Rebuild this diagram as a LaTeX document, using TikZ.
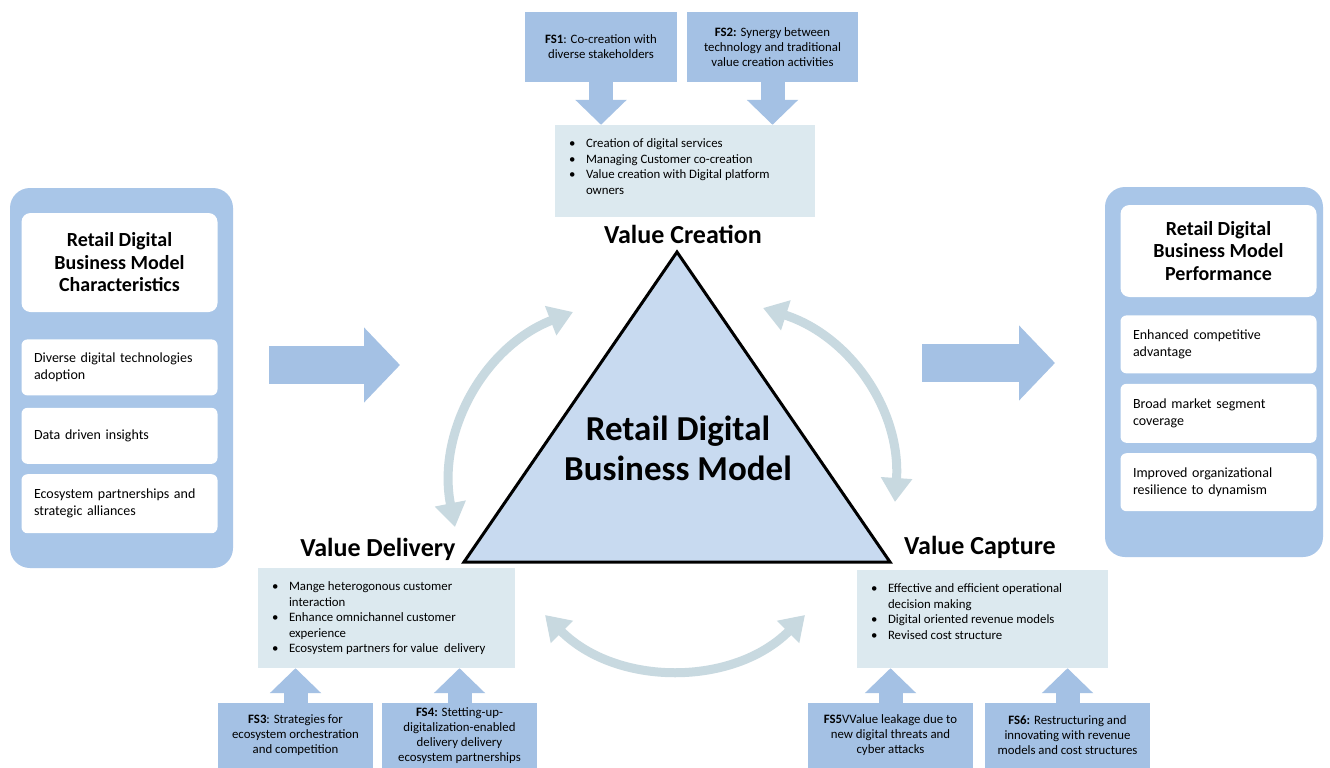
\documentclass[tikz,border=0pt]{standalone}
\usepackage{fontspec}
\setmainfont{Carlito}
\usetikzlibrary{arrows.meta,positioning}
\definecolor{panelblue}{RGB}{169,198,232}
\definecolor{fsblue}{RGB}{164,193,228}
\definecolor{valgray}{RGB}{220,233,239}
\definecolor{triblue}{RGB}{200,218,240}
\definecolor{cyclegray}{RGB}{200,217,224}
\newcommand{\bpt}{\makebox[17pt][l]{\textbullet}}
\newcommand{\bcont}{\hspace*{17pt}}
\tikzset{
  panel_o/.style = {fill=panelblue, rounded corners=20pt},% panneau
  panel_t/.style = {fill=white, rounded corners=9pt, align=center,
    minimum width=196pt, font=\bfseries\fontsize{20}{22.5}\selectfont},% titre
  panel_i/.style = {fill=white, rounded corners=6pt, align=left,
    text width=171pt, inner xsep=12.5pt,
    font=\fontsize{14}{17}\selectfont},% element
  fs_box/.style = {fill=fsblue, align=center, inner sep=0pt,
    minimum height=70pt, font=\fontsize{12.8}{15}\selectfont},% facteur
  val_box/.style = {fill=valgray, inner sep=14pt,
    font=\fontsize{12.8}{15.5}\selectfont},% liste
  val_lbl/.style = {font=\bfseries\fontsize{26}{28}\selectfont},
  fs_arrow/.style = {draw=fsblue, line width=24pt,
    -{Triangle[width=50pt,length=25pt]}},
  big_arrow/.style = {draw=fsblue, line width=38pt,
    -{Triangle[width=73pt,length=36pt]}},
  cycle_arrow/.style = {draw=cyclegray, line width=9pt,
    {Triangle[width=30pt,length=24pt]}-{Triangle[width=30pt,length=24pt]}}
}

\begin{document}
\begin{tikzpicture}[x=1pt,y=-1pt]
\path[use as bounding box, fill=white] (0,0) rectangle (1330,768);

% characteristics
\node[panel_o, minimum width=223pt, minimum height=380pt] (lpanel) at (121.5,378) {};
\node[panel_t, minimum height=99pt] (ltitle) at (119.5,262.5)
  {Retail Digital\\Business Model\\Characteristics};
\node[panel_i, minimum height=56pt, below=27pt of ltitle] (lchar1)
  {Diverse digital technologies\\adoption};
\node[panel_i, minimum height=56pt, below=12pt of lchar1] (lchar2)
  {Data driven insights};
\node[panel_i, minimum height=59pt, below=10pt of lchar2] (lchar3)
  {Ecosystem partnerships and\\strategic alliances};

% performance
\node[panel_o, minimum width=218pt, minimum height=370pt] (rpanel) at (1214,372) {};
\node[panel_t, minimum height=92pt] (rtitle) at (1218.5,251)
  {Retail Digital\\Business Model\\Performance};
\node[panel_i, minimum height=58pt, below=18pt of rtitle] (rperf1)
  {Enhanced competitive\\advantage};
\node[panel_i, minimum height=59pt, below=10pt of rperf1] (rperf2)
  {Broad market segment\\coverage};
\node[panel_i, minimum height=58pt, below=10pt of rperf2] (rperf3)
  {Improved organizational\\resilience to dynamism};

\coordinate (in_s) at (269,365);
\coordinate (in_e) at (400,365);
\coordinate (out_s) at (922,363);
\coordinate (out_e) at (1055,363);
\draw[big_arrow] (in_s) -- (in_e);
\draw[big_arrow] (out_s) -- (out_e);

\coordinate (cy_l1) at (455,527);
\coordinate (cy_l2) at (573,312);
\coordinate (cy_r1) at (763,308);
\coordinate (cy_r2) at (895,502);
\coordinate (cy_b1) at (545,615);
\coordinate (cy_b2) at (805,615);
\draw[cycle_arrow] (cy_l1) to[bend left=40] (cy_l2);
\draw[cycle_arrow] (cy_r1) to[bend left=38] (cy_r2);
\draw[cycle_arrow] (cy_b1) to[bend right=45] (cy_b2);

% triangle
\coordinate (t_top) at (677,252);
\coordinate (t_left) at (464,562);
\coordinate (t_right) at (890,562);
\filldraw[fill=triblue, draw=black, line width=3pt] (t_top) -- (t_left) -- (t_right) -- cycle;
\node[align=center, font=\bfseries\fontsize{35}{40}\selectfont] (rdbm) at (678,448)
  {Retail Digital\\Business Model};

\node[val_lbl] (vcr_lbl) at (683,234) {Value Creation};
\node[val_lbl] (vdl_lbl) at (378,549) {Value Delivery};
\node[val_lbl] (vcp_lbl) at (980,547) {Value Capture};

\node[val_box] (vcreate) at (685,171) {\parbox[c][64pt][t]{232pt}{\raggedright
  \bpt Creation of digital services\\
  \bpt Managing Customer co-creation\\
  \bpt Value creation with Digital platform\\
  \bcont owners}};
\node[val_box] (vdeliver) at (386.5,618) {\parbox[c][72pt][t]{229pt}{\raggedright
  \bpt Mange heterogonous customer\\
  \bcont interaction\\
  \bpt Enhance omnichannel customer\\
  \bcont experience\\
  \bpt Ecosystem partners for value\ \ delivery}};
\node[val_box] (vcapture) at (982.5,619) {\parbox[c][70pt][t]{223pt}{\raggedright
  \bpt Effective and efficient operational\\
  \bcont decision making\\
  \bpt Digital oriented revenue models\\
  \bpt Revised cost structure}};

% factors
\node[fs_box, minimum width=152pt] (fs1) at (601,47)
  {\textbf{FS1}: Co-creation with\\diverse stakeholders};
\node[fs_box, minimum width=171pt] (fs2) at (772.5,47)
  {\textbf{FS2:} Synergy between\\technology and traditional\\value creation activities};
\node[fs_box, minimum width=155pt, minimum height=65pt] (fs3) at (295.5,735.5)
  {\textbf{FS3}: Strategies for\\ecosystem orchestration\\and competition};
\node[fs_box, minimum width=155pt, minimum height=65pt] (fs4) at (459.5,735.5)
  {\textbf{FS4:} Stetting-up-\\digitalization-enabled\\delivery delivery\\ecosystem partnerships};
\node[fs_box, minimum width=165pt, minimum height=65pt] (fs5) at (890.5,735.5)
  {\textbf{FS5}VValue leakage due to\\new digital threats and\\cyber attacks};
\node[fs_box, minimum width=165pt, minimum height=65pt] (fs6) at (1067.5,735.5)
  {\textbf{FS6:} Restructuring and\\innovating with revenue\\models and cost structures};

\draw[fs_arrow] (fs1.south) -- (fs1.south |- vcreate.north);
\draw[fs_arrow] (fs2.south) -- (fs2.south |- vcreate.north);
\draw[fs_arrow] (fs3.north) -- (fs3.north |- vdeliver.south);
\draw[fs_arrow] (fs4.north) -- (fs4.north |- vdeliver.south);
\draw[fs_arrow] (fs5.north) -- (fs5.north |- vcapture.south);
\draw[fs_arrow] (fs6.north) -- (fs6.north |- vcapture.south);
\end{tikzpicture}
\end{document}
